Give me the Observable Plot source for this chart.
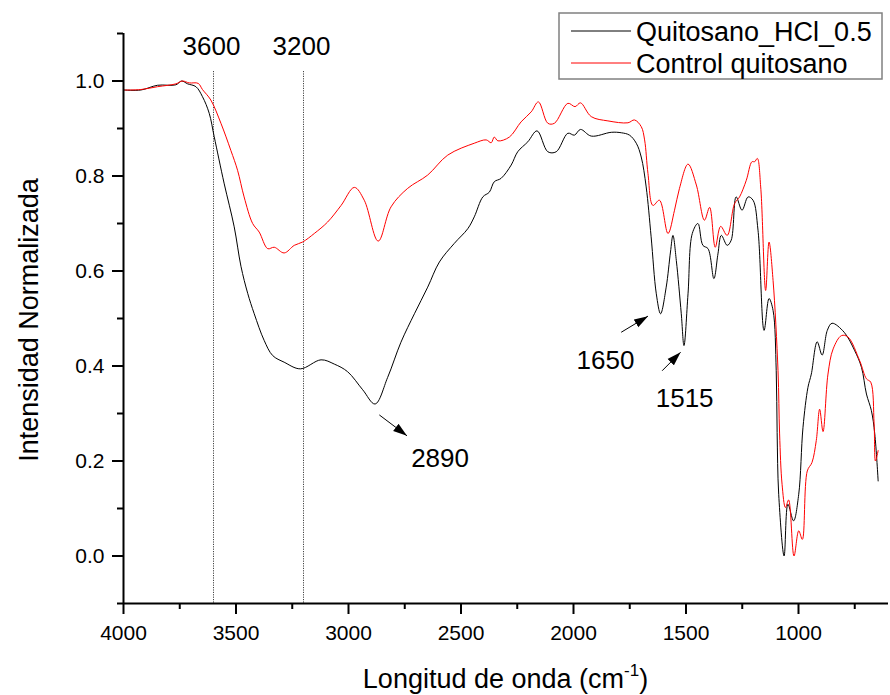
<!DOCTYPE html>
<html><head><meta charset="utf-8">
<script src="https://cdn.jsdelivr.net/npm/d3@7"></script>
<script src="https://cdn.jsdelivr.net/npm/@observablehq/plot@0.6"></script>
<style>
body{margin:0;background:#fff;}
#chart{width:890px;height:695px;}
</style></head><body><div id="chart"></div>
<script>
const seriesNames = ["Quitosano_HCl_0.5", "Control quitosano"];
const seriesColors = ["#000000", "#ff0000"];

const hclWavenumber = [3997,3923,3849,3767,3742,3715,3678,3649,3619,3597,
3553,3508,3478,3448,3419,3375,3337,3286,3214,3122,
3063,3004,2937,2882,2826,2767,2707,2648,2596,2530,
2470,2441,2403,2374,2352,2322,2277,2248,2203,2162,
2114,2077,2025,1996,1969,1921,1832,1787,1751,1721,
1699,1677,1655,1632,1613,1588,1569,1558,1543,1521,
1509,1491,1472,1447,1425,1402,1376,1358,1343,1317,
1299,1277,1251,1224,1202,1180,1153,1131,1113,1099,
1095,1088,1064,1047,1022,999,980,958,943,917,
895,872,851,797,750,720,698,676,661,646];
const hclIntensity = [0.981,0.981,0.991,0.992,1.0,0.994,0.988,0.967,0.932,0.883,
0.785,0.693,0.61,0.553,0.510,0.454,0.422,0.408,0.394,0.413,
0.404,0.388,0.35,0.320,0.376,0.45,0.510,0.566,0.619,0.658,
0.689,0.714,0.756,0.766,0.788,0.795,0.823,0.851,0.872,0.895,
0.851,0.851,0.890,0.886,0.898,0.884,0.892,0.891,0.886,0.869,
0.840,0.777,0.672,0.552,0.510,0.566,0.640,0.675,0.622,0.510,
0.443,0.552,0.679,0.700,0.654,0.647,0.584,0.636,0.675,0.654,
0.665,0.756,0.728,0.756,0.749,0.686,0.475,0.542,0.517,0.39,
0.26,0.13,0.0,0.109,0.074,0.130,0.271,0.355,0.383,0.451,
0.423,0.475,0.490,0.471,0.432,0.397,0.341,0.306,0.257,0.158];

const controlWavenumber = [3997,3923,3849,3767,3738,3708,3668,3649,3612,3567,
3523,3493,3464,3426,3397,3359,3330,3286,3241,3204,
3152,3093,3033,2974,2930,2868,2811,2737,2648,2559,
2441,2388,2366,2352,2336,2285,2233,2188,2156,2114,
2085,2025,1993,1969,1921,1847,1758,1729,1699,1684,
1669,1647,1618,1580,1551,1529,1491,1454,1418,1395,
1370,1346,1317,1284,1262,1232,1207,1195,1183,1168,
1146,1131,1113,1091,1084,1073,1058,1044,1020,999,
983,961,940,921,906,891,869,846,809,780,
728,698,679,664,658,646];
const controlIntensity = [0.981,0.982,0.988,0.994,1.0,0.996,0.995,0.982,0.960,0.911,
0.854,0.812,0.756,0.700,0.682,0.647,0.650,0.638,0.654,0.661,
0.679,0.703,0.738,0.776,0.749,0.663,0.735,0.774,0.802,0.844,
0.869,0.876,0.870,0.882,0.874,0.882,0.914,0.935,0.956,0.911,
0.911,0.953,0.946,0.954,0.925,0.916,0.912,0.918,0.904,0.876,
0.805,0.738,0.749,0.679,0.728,0.774,0.825,0.781,0.707,0.734,
0.650,0.694,0.675,0.742,0.756,0.791,0.830,0.830,0.837,0.777,
0.559,0.661,0.580,0.390,0.257,0.151,0.102,0.118,0.0,0.053,
0.035,0.179,0.197,0.243,0.309,0.262,0.383,0.436,0.464,0.461,
0.411,0.373,0.366,0.278,0.200,0.222];

const xMajorTicks = [4000,3500,3000,2500,2000,1500,1000];
const xMinorTicks = [3750,3250,2750,2250,1750,1250,750];
const yMajorTicks = [0,0.2,0.4,0.6,0.8,1.0];
const yMinorTicks = [-0.1,0.1,0.3,0.5,0.7,0.9,1.1];

const guideWavenumbers = [3600,3200];
const guideLabels = ["3600","3200"];
const peakLabels = ["2890","1650","1515"];
const peakLabelX = [2593,1858,1506];
const peakLabelY = [0.188,0.394,0.314];
const arrowFromX = [2863,1788,1606];
const arrowFromY = [0.297,0.471,0.390];
const arrowToX = [2740,1669,1524];
const arrowToY = [0.253,0.505,0.429];

const xTitle = "Longitud de onda (cm";
const xTitleSup = "-1";
const yTitle = "Intensidad Normalizada";

const data = [
  ...hclWavenumber.map((w, i) => ({series: seriesNames[0], wn: w, v: hclIntensity[i]})),
  ...controlWavenumber.map((w, i) => ({series: seriesNames[1], wn: w, v: controlIntensity[i]}))
];
const guides = guideWavenumbers.map((w, i) => ({wn: w, label: guideLabels[i]}));
const peaks = peakLabels.map((l, i) => ({label: l, x: peakLabelX[i], y: peakLabelY[i],
  x1: arrowFromX[i], y1: arrowFromY[i], x2: arrowToX[i], y2: arrowToY[i]}));

function filledArrow(color, context) {
  const doc = (context && context.document) || document;
  const ns = "http://www.w3.org/2000/svg";
  const m = doc.createElementNS(ns, "marker");
  m.setAttribute("viewBox", "-14 -5 14 10");
  m.setAttribute("markerWidth", "14");
  m.setAttribute("markerHeight", "10");
  m.setAttribute("markerUnits", "userSpaceOnUse");
  m.setAttribute("orient", "auto");
  m.setAttribute("fill", color);
  m.setAttribute("stroke", "none");
  const p = doc.createElementNS(ns, "path");
  p.setAttribute("d", "M-14,-4.5L0,0L-14,4.5Z");
  m.appendChild(p);
  return m;
}

const W = 890, H = 695, ML = 123, MR = 2, MT = 33, MB = 92;
const font = "'Liberation Sans', Arial, Helvetica, sans-serif";

const plot = Plot.plot({
  width: W, height: H,
  marginLeft: ML, marginRight: MR, marginTop: MT, marginBottom: MB,
  style: {fontFamily: font, background: "#fff", color: "#000", overflow: "visible"},
  x: {domain: [4000, 600], label: null, axis: null},
  y: {domain: [-0.1, 1.1], label: null, axis: null},
  color: {domain: seriesNames, range: seriesColors},
  marks: [
    Plot.ruleX(guides, {x: "wn", y1: 1.02, y2: -0.1, stroke: "#444", strokeWidth: 1, strokeDasharray: "1.2,1.2"}),
    Plot.text(guides, {x: "wn", y: 1.055, text: "label", fontSize: 26, lineAnchor: "bottom", textAnchor: "middle", fill: "#000", dx: -2}),
    Plot.line(data, {x: "wn", y: "v", z: "series", stroke: "series", strokeWidth: 1, curve: "catmull-rom"}),
    Plot.link(peaks, {x1: "x1", y1: "y1", x2: "x2", y2: "y2", stroke: "#000", strokeWidth: 1, markerEnd: filledArrow}),
    Plot.text(peaks, {x: "x", y: "y", text: "label", fontSize: 26, lineAnchor: "bottom", textAnchor: "middle", fill: "#000"}),
    Plot.ruleY([-0.1], {stroke: "#000", strokeWidth: 2}),
    Plot.ruleX([4000], {stroke: "#000", strokeWidth: 2}),
    Plot.axisX(xMajorTicks, {anchor: "bottom", tickSize: 11, tickPadding: 11, fontSize: 21, strokeWidth: 2, tickFormat: d => String(d), label: null, fill: "#000"}),
    Plot.axisX(xMinorTicks, {anchor: "bottom", tickSize: 6, strokeWidth: 2, tickFormat: () => "", label: null}),
    Plot.axisY(yMajorTicks, {anchor: "left", tickSize: 11, tickPadding: 8, fontSize: 21, strokeWidth: 2, tickFormat: d3.format(".1f"), label: null, fill: "#000"}),
    Plot.axisY(yMinorTicks, {anchor: "left", tickSize: 6, strokeWidth: 2, tickFormat: () => "", label: null})
  ]
});

document.getElementById("chart").appendChild(plot);

const svg = d3.select(plot);
// axis titles
const xt = svg.append("text")
  .attr("x", (ML + W - MR) / 2).attr("y", 688)
  .attr("text-anchor", "middle").attr("font-size", 27).attr("fill", "#000")
  .attr("font-family", font);
xt.append("tspan").text(xTitle);
xt.append("tspan").attr("font-size", 17).attr("dy", -12).text(xTitleSup);
xt.append("tspan").attr("dy", 12).text(")");

svg.append("text")
  .attr("transform", `translate(38,${(MT + H - MB) / 2 + 2}) rotate(-90)`)
  .attr("text-anchor", "middle").attr("font-size", 27).attr("fill", "#000")
  .attr("font-family", font)
  .text(yTitle);

// legend
const lg = svg.append("g").attr("font-family", font).attr("text-anchor", "start");
lg.append("rect").attr("x", 559).attr("y", 13).attr("width", 323).attr("height", 66)
  .attr("fill", "#fff").attr("stroke", "#808080").attr("stroke-width", 1.5);
seriesNames.forEach((name, i) => {
  const cy = 31 + i * 32;
  lg.append("line").attr("x1", 571).attr("x2", 631).attr("y1", cy).attr("y2", cy)
    .attr("stroke", seriesColors[i]).attr("stroke-width", 1);
  lg.append("text").attr("x", 636).attr("y", cy + 9.5).attr("font-size", 27)
    .attr("text-anchor", "start").attr("fill", "#000").text(name);
});
</script>
</body></html>
